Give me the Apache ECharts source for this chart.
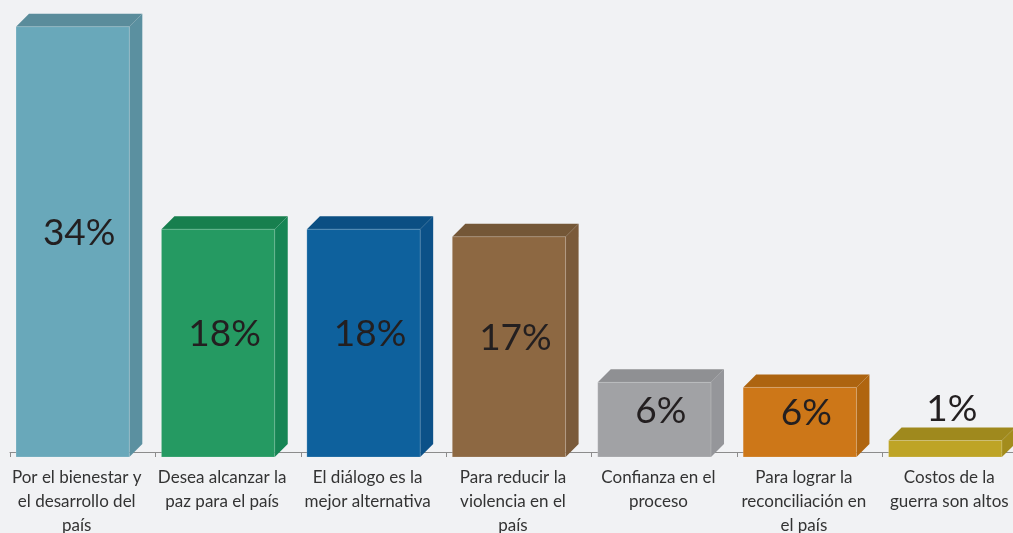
<!DOCTYPE html>
<html>
<head>
<meta charset="utf-8">
<script src="https://cdn.jsdelivr.net/npm/echarts@6/dist/echarts.min.js"></script>
<style>
  html,body{margin:0;padding:0;background:#f1f2f4;}
  #chart{width:1013px;height:533px;}
</style>
</head>
<body>
<div id="chart"></div>
<script>
// razones (categorias), valores estimados y etiquetas impresas
const categories = [
  'Por el bienestar y\nel desarrollo del\npaís',
  'Desea alcanzar la\npaz para el país',
  'El diálogo es la\nmejor alternativa',
  'Para reducir la\nviolencia en el\npaís',
  'Confianza en el\nproceso',
  'Para lograr la\nreconciliación en\nel país',
  'Costos de la\nguerra son altos'
];
const values = [34, 18, 18, 17.4, 5.9, 5.5, 1.3];
const labels = ['34%', '18%', '18%', '17%', '6%', '6%', '1%'];

const frontColors = ['#69a8ba', '#259a62', '#0e619d', '#8d6842', '#a1a2a5', '#cd7718', '#bea426'];
const topColors   = ['#5a8c9b', '#177f4e', '#0b4f83', '#745737', '#8f9093', '#ad6410', '#9f891d'];
const sideColors  = ['#5b90a0', '#168554', '#0c5188', '#7a5a3a', '#95969a', '#b0650f', '#a38c1c'];

const chart = echarts.init(document.getElementById('chart'));

function renderBox(params, api) {
  const i = api.value(0), v = api.value(1);
  const base = api.coord([i, 0]);
  const top = api.coord([i, v]);
  const band = api.size([1, 0])[0];
  const d = 13;
  const xl = base[0] - band * 0.4586, w = band * 0.779;
  const yb = base[1] + 5, yt = top[1] + 5;
  const h = yb - yt;
  const ly = h < 40 ? yt - 31 : (yt + yb) / 2 - 9;
  return {
    type: 'group',
    children: [
      { type: 'polygon', shape: { points: [[xl + w, yt], [xl + w + d, yt - d], [xl + w + d, yb - d], [xl + w, yb]] },
        style: { fill: sideColors[i] } },
      { type: 'polygon', shape: { points: [[xl, yt], [xl + d, yt - d], [xl + w + d, yt - d], [xl + w, yt]] },
        style: { fill: topColors[i] } },
      { type: 'rect', shape: { x: xl, y: yt, width: w, height: h },
        style: { fill: frontColors[i], stroke: 'rgba(255,255,255,0.18)', lineWidth: 1 } },
      { type: 'text', x: xl + (w + d) / 2, y: ly,
        style: { text: labels[i], fill: '#231f20', font: '37px Lato', align: 'center', verticalAlign: 'middle' } }
    ]
  };
}

chart.setOption({
  backgroundColor: '#f1f2f4',
  animation: false,
  grid: { left: 10, top: 9, width: 1018, bottom: 81, outerBoundsMode: 'none', containLabel: false },
  xAxis: {
    type: 'category',
    data: categories,
    axisLine: { lineStyle: { color: '#8c8c8c', width: 1 } },
    axisTick: { show: true, length: 5, lineStyle: { color: '#8c8c8c' } },
    axisLabel: { color: '#333333', fontFamily: 'Lato', fontSize: 17, lineHeight: 24, margin: 14, interval: 0,
      padding: [0, 12, 0, 0] }
  },
  yAxis: { type: 'value', min: 0, max: 35, show: false, splitLine: { show: false } },
  series: [{
    type: 'custom',
    renderItem: renderBox,
    clip: false,
    data: values.map((v, i) => [i, v])
  }]
});
</script>
</body>
</html>
